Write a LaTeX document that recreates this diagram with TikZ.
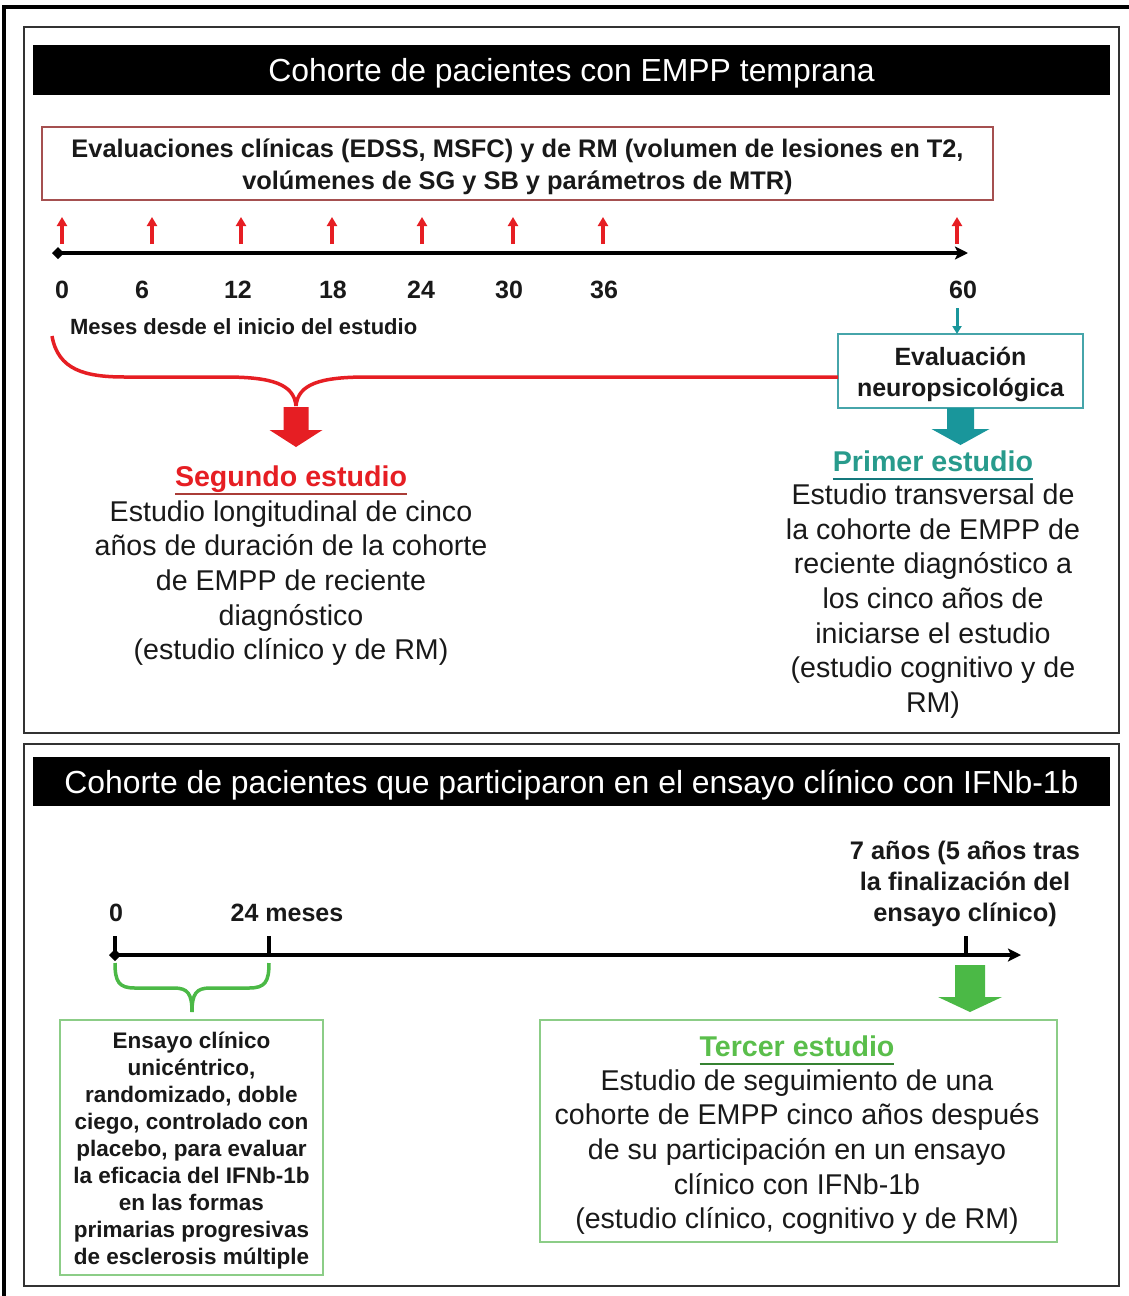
\documentclass[tikz,border=0pt]{standalone}
\usepackage{fontspec}
\setmainfont{Liberation Sans}
\usetikzlibrary{arrows.meta,calc}
\definecolor{redc}{RGB}{230,30,35}
\definecolor{redul}{RGB}{170,60,55}
\definecolor{redborder}{RGB}{165,80,80}
\definecolor{tealc}{RGB}{25,150,155}
\definecolor{tealtext}{RGB}{40,155,140}
\definecolor{tealborder}{RGB}{70,165,170}
\definecolor{greenc}{RGB}{75,185,70}
\definecolor{greenborder}{RGB}{140,205,135}
\definecolor{greentext}{RGB}{90,190,75}
\definecolor{bodytext}{RGB}{25,25,25}
\definecolor{panelc}{RGB}{50,50,50}
\begin{document}
\begin{tikzpicture}[x=1pt,y=-1pt,
  every node/.style={inner sep=0pt, outer sep=0pt, text=bodytext},
  header/.style={fill=black, minimum width=1077, text=white, text height=23pt, text depth=0pt,
    font=\fontsize{31.9}{38}\selectfont},
  panel/.style={draw=panelc, line width=1.5},
  evalbox/.style={draw=redborder, line width=1.5, fill=white, minimum width=951, minimum height=73},
  evaltxt/.style={align=center, font=\bfseries\fontsize{25.4}{32}\selectfont},
  numlbl/.style={font=\bfseries\fontsize{25}{30}\selectfont},
  smalllbl/.style={font=\bfseries\fontsize{22}{26}\selectfont},
  timeline/.style={line width=3.5, -{Stealth[length=13pt,width=13pt,inset=3pt]}},
  smallred/.style={redc, line width=3.5, -{Triangle[width=10pt,length=9pt]}},
  tealbox/.style={draw=tealborder, line width=1.5, fill=white, minimum width=245, minimum height=74},
  tealtxt/.style={align=center, font=\bfseries\fontsize{25}{31}\selectfont},
  greenbox/.style={draw=greenborder, line width=2, fill=white},
  studytitle/.style={font=\bfseries\fontsize{28.6}{34}\selectfont},
  bodytxt/.style={align=center, font=\fontsize{28.6}{34.6}\selectfont},
  boldsmall/.style={align=center, font=\bfseries\fontsize{25.4}{31}\selectfont},
  ensayotxt/.style={align=center, font=\bfseries\fontsize{22.5}{27}\selectfont},
  ]
\useasboundingbox (0,0) rectangle (1129,1296);
\fill[white] (0,0) rectangle (1129,1296);
% outer frame
\draw[line width=3.5] (4,1300) -- (4,7) -- (1135,7);
% panels
\draw[panel] (24,27) rectangle (1119,733);
\draw[panel] (24,744) rectangle (1119,1286);

% ---------- panel 1 ----------
\node[header, minimum height=50] (h1) at (571.5,70) {Cohorte de pacientes con EMPP temprana};
\node[evalbox] (eval) at (517.5,163.5) {};
\node[evaltxt] (evaltext) at (517.5,166.5) {Evaluaciones clínicas (EDSS, MSFC) y de RM (volumen de lesiones en T2,\\volúmenes de SG y SB y parámetros de MTR)};

\coordinate (t0) at (58,253);
\coordinate (tend) at (968,253);
\draw[timeline] (t0) -- (tend);
\fill (t0) ++(-6,0) -- ++(6,-6) -- ++(6,6) -- ++(-6,6) -- cycle;

\foreach \x [count=\i] in {62,152,241,332,422,513,603,957} {
  \coordinate (rb\i) at (\x,244);
  \coordinate (rt\i) at (\x,217);
  \draw[smallred] (rb\i) -- (rt\i);
}
\foreach \x/\t in {62/0,142/6,238/12,333/18,421/24,509/30,604/36,963/60}
  \node[numlbl] (n\t) at (\x,290) {\t};
\node[smalllbl, anchor=west] (meses) at (70,327) {Meses desde el inicio del estudio};

\node[tealbox] (neuro) at (960.5,371) {};
\node[tealtxt] (neurotext) at (960.5,374) {Evaluación\\neuropsicológica};
\coordinate (tsa) at (957,308);
\draw[tealc, line width=3, -{Triangle[width=9pt,length=8pt]}] (tsa) -- (tsa |- neuro.north);

% red brace
\coordinate (bs) at (52,336);
\coordinate (btip) at (296,406);
\draw[redc, line width=3.5] (bs) .. controls (58,370) and (85,377) .. (125,377) -- (225,377)
   .. controls (272,377) and (294,384) .. (btip);
\draw[redc, line width=3.5] (btip) .. controls (298,384) and (320,377) .. (367,377) -- (neuro.west |- 0,377);
\fill[redc] (283.5,407) -- ++(25,0) -- ++(0,23) -- ++(14,0) -- ++(-26.5,17) -- ++(-26.5,-17) -- ++(14,0) -- cycle;

\node[studytitle, text=redc] (seg) at (291,479) {Segundo estudio};
\draw[redul, line width=1.8] ([yshift=-8pt]seg.base west) -- ([yshift=-8pt]seg.base east);
\node[bodytxt] (segbody) at (291,583) {Estudio longitudinal de cinco\\años de duración de la cohorte\\de EMPP de reciente\\diagnóstico\\(estudio clínico y de RM)};

\fill[tealc] ([xshift=-13.5pt]neuro.south) -- ++(27,0) -- ++(0,21) -- ++(15.5,0) -- ++(-29,16) -- ++(-29,-16) -- ++(15.5,0) -- cycle;
\node[studytitle, text=tealtext] (prim) at (933,461) {Primer estudio};
\draw[tealc!80!black, line width=1.8] ([yshift=-8pt]prim.base west) -- ([yshift=-8pt]prim.base east);
\node[bodytxt] (primbody) at (933,601) {Estudio transversal de\\la cohorte de EMPP de\\reciente diagnóstico a\\los cinco años de\\iniciarse el estudio\\(estudio cognitivo y de\\RM)};

% ---------- panel 2 ----------
\node[header, minimum height=49] (h2) at (571.5,781.5) {Cohorte de pacientes que participaron en el ensayo clínico con IFNb-1b};
\node[boldsmall] (siete) at (965,884) {7 años (5 años tras\\la finalización del\\ensayo clínico)};
\node[numlbl] (z0) at (116,913) {0};
\node[numlbl] (m24) at (287,913) {24 meses};

\coordinate (b0) at (115,955);
\coordinate (bend) at (1021,955);
\draw[timeline] (b0) -- (bend);
\fill (b0) ++(-6,0) -- ++(6,-6) -- ++(6,6) -- ++(-6,6) -- cycle;
\coordinate (k24) at (269,955);
\coordinate (k7) at (966,955);
\draw[line width=3.5] (b0) -- ++(0,-19);
\draw[line width=3.5] (k24) -- ++(0,-19);
\draw[line width=3.5] (k7) -- ++(0,-19);

% green brace
\coordinate (gb1) at (115,963);
\coordinate (gb2) at (269,963);
\coordinate (gtip) at (192,1012);
\draw[greenc, line width=3.5] (gb1) .. controls (115,982) and (119,988) .. (135,988) -- (174,988)
   .. controls (188,988) and (192,994) .. (gtip)
   .. controls (192,994) and (196,988) .. (210,988) -- (249,988)
   .. controls (265,988) and (269,982) .. (gb2);

\node[greenbox, minimum width=263, minimum height=255] (ensayo) at (191.5,1147.5) {};
\node[ensayotxt] (ensayotext) at (191.5,1150.5) {Ensayo clínico\\unicéntrico,\\randomizado, doble\\ciego, controlado con\\placebo, para evaluar\\la eficacia del IFNb-1b\\en las formas\\primarias progresivas\\de esclerosis múltiple};

\fill[greenc] (955,965) -- ++(30,0) -- ++(0,32) -- ++(17,0) -- ++(-32,15) -- ++(-32,-15) -- ++(17,0) -- cycle;

\node[greenbox, minimum width=517, minimum height=222] (tercer) at (798.5,1131) {};
\node[studytitle, text=greentext] (terc) at (797,1046) {Tercer estudio};
\draw[greenc!70!black, line width=1.8] ([yshift=-8pt]terc.base west) -- ([yshift=-8pt]terc.base east);
\node[bodytxt] (tercbody) at (797,1152) {Estudio de seguimiento de una\\cohorte de EMPP cinco años después\\de su participación en un ensayo\\clínico con IFNb-1b\\(estudio clínico, cognitivo y de RM)};
\end{tikzpicture}
\end{document}
